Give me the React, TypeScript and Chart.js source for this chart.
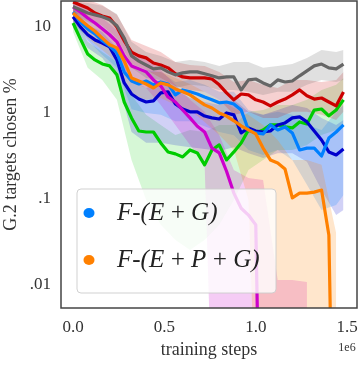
import React, { useEffect, useRef } from "react";
import { Chart, registerables } from "chart.js";
Chart.register(...registerables);

const FONT = "'Liberation Serif', 'DejaVu Serif', serif";
const TEXT = "#333333";

// training steps
const X_STEPS = [0, 40000, 80000, 120000, 160000, 200000, 240000, 280000, 320000, 360000, 400000, 440000, 480000, 520000, 560000, 600000, 640000, 680000, 720000, 760000, 800000, 840000, 880000, 920000, 960000, 1000000, 1040000, 1080000, 1120000, 1160000, 1200000, 1240000, 1280000, 1320000, 1360000, 1400000, 1440000, 1480000];
const BAND_X_STEPS = [0, 80000, 160000, 240000, 320000, 400000, 480000, 560000, 640000, 720000, 800000, 880000, 960000, 1040000, 1120000, 1200000, 1280000, 1360000, 1440000, 1480000];

// mean curves (% G.2 targets chosen)
const GRAY = [17.1, 15.8, 14.5, 13.8, 13.1, 12.1, 10.3, 7.4, 4.6, 4.0, 3.61, 3.25, 3.34, 3.0, 2.77, 2.92, 3.0, 3.0, 2.85, 2.7, 2.55, 2.62, 2.62, 1.85, 2.42, 2.48, 2.23, 2.06, 2.42, 2.29, 2.35, 2.7, 3.08, 3.52, 3.7, 3.34, 3.25, 3.7];
const RED = [19.5, 18.0, 16.6, 14.5, 13.4, 12.7, 10, 6.9, 5.1, 4.6, 4.36, 3.81, 3.61, 3.34, 2.85, 2.62, 2.55, 2.55, 2.55, 2.48, 2.12, 1.71, 1.42, 1.66, 1.62, 1.42, 1.34, 1.21, 1.34, 1.45, 1.62, 1.85, 1.58, 1.45, 1.49, 1.34, 1.21, 1.75];
const GREEN = [11.1, 7.25, 4.85, 4.13, 3.71, 3.52, 2.77, 1.34, 0.875, 0.617, 0.6, 0.6, 0.448, 0.352, 0.334, 0.308, 0.371, 0.343, 0.249, 0.371, 0.425, 0.284, 0.352, 0.448, 0.634, 0.585, 0.634, 0.725, 0.725, 0.687, 0.67, 0.786, 0.745, 1.08, 1.11, 0.925, 1.08, 1.42];
const NAVY = [13.1, 10, 8.1, 7.06, 6.5, 5.85, 4.13, 2.23, 1.66, 1.45, 1.34, 1.38, 1.71, 1.76, 1.27, 1.11, 1.03, 1.03, 0.92, 0.875, 0.85, 1.0, 0.95, 0.585, 0.67, 0.617, 0.6, 0.617, 0.725, 0.765, 0.875, 0.9, 0.786, 0.617, 0.485, 0.352, 0.325, 0.38];
const AZURE = [14.9, 11.4, 9.5, 8.3, 6.9, 6.0, 4.98, 3.0, 2.35, 2.17, 2.35, 2.12, 2.29, 2.17, 1.62, 1.85, 1.76, 1.66, 1.53, 1.42, 1.31, 1.34, 1.27, 1.08, 0.634, 0.585, 0.57, 0.725, 0.634, 0.687, 0.585, 0.371, 0.39, 0.39, 0.316, 0.51, 0.6, 0.725];
const MAGENTA = [17.1, 14.9, 12.7, 11.1, 9.5, 8.1, 6.7, 4.6, 3.52, 3.25, 3.0, 2.42, 2.06, 1.53, 1.34, 1.08, 0.875, 0.7, 0.6, 0.39, 0.343, 0.21, 0.117, 0.078, 0.065, 0.05, 0, 0, 0, 0, 0, 0, 0, 0, 0, 0, 0, 0];
const ORANGE = [14.5, 12.1, 10.3, 8.9, 7.4, 6.2, 5.7, 4.0, 2.55, 2.35, 2.17, 1.95, 2.23, 2.12, 1.9, 1.76, 1.62, 1.42, 1.24, 1.14, 1.0, 0.92, 0.81, 0.706, 0.634, 0.57, 0.39, 0.284, 0.262, 0.223, 0.103, 0.117, 0.117, 0.12, 0.127, 0.038, 0, 0];

// confidence bands (upper / lower)
const GRAY_HI = [19.5, 19.0, 17.6, 14.1, 6.7, 5.1, 4.6, 3.92, 4.13, 3.92, 3.52, 3.92, 3.92, 3.34, 3.52, 3.71, 4.36, 5.4, 5.1, 5.4];
const GRAY_LO = [14.1, 11.4, 10, 7.06, 3.34, 2.55, 2.42, 1.95, 2.12, 2.06, 1.85, 1.85, 1.76, 1.62, 1.76, 1.76, 2.12, 2.42, 2.29, 2.42];
const RED_HI = [20.6, 20.6, 18.0, 13.8, 7.06, 6.0, 5.1, 3.92, 3.61, 3.52, 3.0, 2.29, 2.42, 2.12, 1.95, 2.42, 2.42, 2.29, 2.42, 3.0];
const RED_LO = [14.9, 12.7, 10.3, 7.4, 3.71, 3.16, 2.55, 2.06, 1.85, 1.76, 1.42, 0.95, 1.03, 0.875, 0.875, 1.03, 1.03, 0.95, 0.83, 1.03];
const GREEN_HI = [13.8, 6.7, 5.1, 3.92, 1.62, 0.95, 0.725, 0.555, 0.634, 0.6, 0.725, 0.725, 1.03, 1.08, 1.24, 1.24, 1.42, 1.85, 2.12, 2.55];
const GREEN_LO = [8.75, 3.34, 2.42, 1.42, 0.284, 0.097, 0.05, 0.0334, 0.0255, 0.0334, 0.05, 0.097, 0.217, 0.284, 0.371, 0.371, 0.425, 0.555, 0.634, 0.725];
const NAVY_HI = [16.6, 10.5, 8.75, 5.7, 2.42, 1.95, 2.29, 1.85, 1.49, 1.34, 1.24, 1.42, 1.03, 0.95, 1.08, 1.24, 1.14, 0.875, 0.725, 0.83];
const NAVY_LO = [9.7, 5.7, 4.36, 2.55, 0.6, 0.45, 0.45, 0.42, 0.4, 0.38, 0.36, 0.4, 0.34, 0.3, 0.34, 0.34, 0.27, 0.127, 0.065, 0.0745];
const AZURE_HI = [18.5, 12.1, 9.2, 6.7, 3.34, 3.16, 3.0, 2.29, 2.42, 2.12, 1.76, 1.76, 1.08, 0.95, 1.03, 0.95, 0.725, 0.634, 1.03, 1.24];
const AZURE_LO = [11.4, 7.06, 4.72, 3.34, 1.1, 1.0, 0.95, 0.8, 0.8, 0.7, 0.6, 0.55, 0.371, 0.325, 0.371, 0.284, 0.146, 0.0745, 0.085, 0.111];
const MAGENTA_HI = [20.6, 16.6, 12.7, 9.2, 5.1, 4.36, 3.16, 2.12, 1.42, 1.03, 0.555, 0.217, 0.175, 0.166, 0.0114, 0.0114, 0.0108, null, null, null];
const MAGENTA_LO = [14.1, 9.2, 6.7, 4.72, 2.29, 1.95, 1.24, 0.725, 0.425, 0.249, 0, 0, 0, 0, 0, 0, 0, null, null, null];
const ORANGE_HI = [18.5, 13.4, 9.7, 7.4, 3.61, 3.0, 3.0, 2.55, 2.17, 1.76, 1.42, 1.14, 0.95, 0.725, 0.485, 0.284, 0.284, 0.249, 0.04, null];
const ORANGE_LO = [11.4, 7.4, 5.4, 3.92, 1.62, 1.42, 1.49, 1.24, 1.08, 0.786, 0.555, 0.371, 0.097, 0, 0, 0, 0, 0, 0, null];

const Y_TICKS = [0.01, 0.1, 1, 10];
const Y_TICK_LABELS = [".01", ".1", "1", "10"];
const X_TICKS = [0, 500000, 1000000, 1500000];
const X_TICK_LABELS = ["0.0", "0.5", "1.0", "1.5"];
const X_OFFSET_LABEL = "1e6";
const LEGEND_LABELS = ["F-(E\u2009+\u2009G)", "F-(E\u2009+\u2009P\u2009+\u2009G)"];
const LEGEND_COLORS = ["#0080ff", "#ff8000"];

// matplotlib "clip" of non-positive values on a log axis
const CLIP = 1e-6;
const pts = (xs: number[], ys: (number | null)[]) =>
  xs.map((x, i) => ({ x, y: ys[i] === null ? null : Math.max(ys[i] as number, CLIP) }));

const SERIES = [
  { color: "#666666", band: "rgba(102,102,102,0.2)", mean: GRAY, hi: GRAY_HI, lo: GRAY_LO },
  { color: "#cc0000", band: "rgba(204,0,0,0.18)", mean: RED, hi: RED_HI, lo: RED_LO },
  { color: "#ff8000", band: "rgba(255,128,0,0.2)", mean: ORANGE, hi: ORANGE_HI, lo: ORANGE_LO },
  { color: "#cc00cc", band: "rgba(204,0,204,0.2)", mean: MAGENTA, hi: MAGENTA_HI, lo: MAGENTA_LO },
  { color: "#0080ff", band: "rgba(0,128,255,0.2)", mean: AZURE, hi: AZURE_HI, lo: AZURE_LO },
  { color: "#0000cc", band: "rgba(0,0,204,0.18)", mean: NAVY, hi: NAVY_HI, lo: NAVY_LO },
  { color: "#00cc00", band: "rgba(0,204,0,0.16)", mean: GREEN, hi: GREEN_HI, lo: GREEN_LO },
];

const framePlugin = {
  id: "frame",
  afterDatasetsDraw(chart: any) {
    const { ctx, chartArea: a } = chart;
    ctx.save();
    ctx.strokeStyle = "#444444";
    ctx.lineWidth = 1.5;
    ctx.strokeRect(a.left, a.top, a.right - a.left, a.bottom - a.top);
    ctx.restore();
  },
};

const legendPlugin = {
  id: "customLegend",
  afterDraw(chart: any) {
    const { ctx, chartArea: a } = chart;
    const x = a.left + 16, y = a.top + 188, w = 199, h = 104, r = 4;
    ctx.save();
    ctx.beginPath();
    ctx.moveTo(x + r, y);
    ctx.arcTo(x + w, y, x + w, y + h, r);
    ctx.arcTo(x + w, y + h, x, y + h, r);
    ctx.arcTo(x, y + h, x, y, r);
    ctx.arcTo(x, y, x + w, y, r);
    ctx.closePath();
    ctx.fillStyle = "rgba(255,255,255,0.8)";
    ctx.fill();
    ctx.strokeStyle = "rgba(204,204,204,0.9)";
    ctx.lineWidth = 1;
    ctx.stroke();
    LEGEND_LABELS.forEach((label, k) => {
      const cy = y + 24 + k * 47;
      ctx.beginPath();
      ctx.ellipse(x + 12, cy, 5.5, 5, 0, 0, Math.PI * 2);
      ctx.fillStyle = LEGEND_COLORS[k];
      ctx.fill();
      ctx.fillStyle = "#222222";
      ctx.font = `italic 25px ${FONT}`;
      ctx.textBaseline = "middle";
      ctx.textAlign = "left";
      ctx.fillText(label, x + 40, cy);
    });
    ctx.restore();
  },
};

const offsetPlugin = {
  id: "offsetLabel",
  afterDraw(chart: any) {
    const { ctx, chartArea: a } = chart;
    ctx.save();
    ctx.fillStyle = TEXT;
    ctx.font = `12px ${FONT}`;
    ctx.textAlign = "center";
    ctx.textBaseline = "middle";
    ctx.fillText(X_OFFSET_LABEL, a.right - 10, a.bottom + 40);
    ctx.restore();
  },
};

export default function App() {
  const ref = useRef<HTMLCanvasElement>(null);
  useEffect(() => {
    if (!ref.current) return;
    const lines = SERIES.map((s) => ({
      data: pts(X_STEPS, s.mean),
      borderColor: s.color,
      borderWidth: 3.2,
      pointRadius: 0,
      fill: false,
      borderJoinStyle: "round" as const,
      tension: 0,
    }));
    const bands: any[] = [];
    SERIES.forEach((s) => {
      bands.push({
        data: pts(BAND_X_STEPS, s.hi),
        borderWidth: 0,
        borderColor: "rgba(0,0,0,0)",
        pointRadius: 0,
        fill: false,
      });
      bands.push({
        data: pts(BAND_X_STEPS, s.lo),
        borderWidth: 0,
        borderColor: "rgba(0,0,0,0)",
        backgroundColor: s.band,
        pointRadius: 0,
        fill: "-1",
      });
    });
    const chart = new Chart(ref.current, {
      type: "line",
      data: { datasets: [...lines, ...bands] as any },
      options: {
        animation: false,
        responsive: true,
        maintainAspectRatio: false,
        layout: { padding: { left: 0, right: 3, top: 1, bottom: 0 } },
        plugins: {
          legend: { display: false },
          tooltip: { enabled: false },
          filler: { drawTime: "beforeDatasetsDraw" } as any,
        },
        scales: {
          x: {
            type: "linear",
            min: -66000,
            max: 1554000,
            afterFit: (s: any) => {
              s.height = 57;
              s.paddingLeft = 0;
              s.paddingRight = 0;
            },
            afterBuildTicks: (s: any) => { s.ticks = X_TICKS.map((v) => ({ value: v })); },
            ticks: {
              autoSkip: false,
              maxRotation: 0,
              padding: 9,
              color: TEXT,
              font: { family: FONT, size: 17 },
              callback: (v: any) => {
                const i = X_TICKS.indexOf(Number(v));
                return i >= 0 ? X_TICK_LABELS[i] : "";
              },
            },
            grid: { display: false, drawTicks: false },
            border: { display: false },
            title: {
              display: true,
              text: "training steps",
              color: TEXT,
              font: { family: FONT, size: 18 },
              padding: { top: 0, bottom: 4 },
            },
          },
          y: {
            type: "logarithmic",
            min: 0.0054,
            max: 20,
            afterFit: (s: any) => {
              s.width = 61;
              s.paddingTop = 0;
              s.paddingBottom = 0;
            },
            afterBuildTicks: (s: any) => { s.ticks = Y_TICKS.map((v) => ({ value: v })); },
            ticks: {
              autoSkip: false,
              padding: 10,
              color: TEXT,
              font: { family: FONT, size: 17 },
              callback: (v: any) => {
                const i = Y_TICKS.findIndex((t) => Math.abs(t - Number(v)) < t * 1e-6);
                return i >= 0 ? Y_TICK_LABELS[i] : "";
              },
            },
            grid: { display: false, drawTicks: false },
            border: { display: false },
            title: {
              display: true,
              text: "G.2 targets chosen %",
              color: TEXT,
              font: { family: FONT, size: 18 },
              padding: { top: 0, bottom: 0 },
            },
          },
        },
      },
      plugins: [framePlugin, legendPlugin, offsetPlugin],
    });
    return () => chart.destroy();
  }, []);
  return (
    <div style={{ position: "absolute", left: 0, top: 0, width: 360, height: 365 }}>
      <canvas ref={ref} />
    </div>
  );
}
